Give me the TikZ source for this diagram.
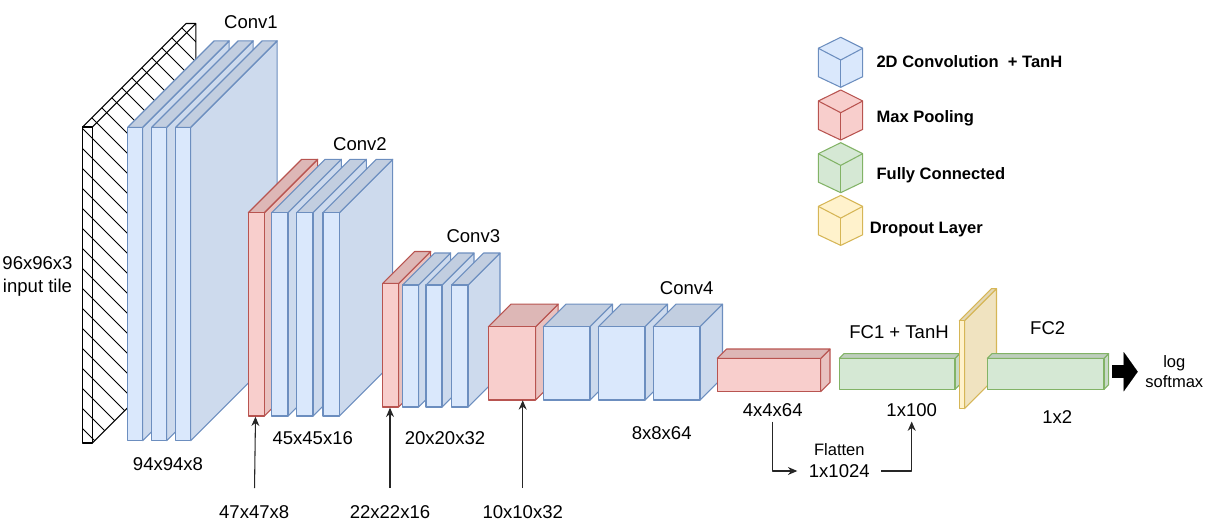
\documentclass[tikz,border=0pt]{standalone}
\usepackage{fontspec}
\setmainfont{Liberation Sans}
\usepackage{xcolor}
\usepackage{tikz}
\usetikzlibrary{arrows.meta, positioning}

\definecolor{convfill}{HTML}{DAE8FC}
\definecolor{convline}{HTML}{6C8EBF}
\definecolor{poolfill}{HTML}{F8CECC}
\definecolor{poolline}{HTML}{B85450}
\definecolor{fcfill}{HTML}{D5E8D4}
\definecolor{fcline}{HTML}{82B366}
\definecolor{dropfill}{HTML}{FFF2CC}
\definecolor{dropline}{HTML}{D6B656}

% box with depth: x, y (front top left), width, height, depth, fill, line
\newcommand{\layerbox}[7]{%
  \filldraw[draw=#7, fill=#6!94!black] ({#1+#3},{#2}) -- ++(#5,-#5) -- ++(0,#4) -- ({#1+#3},{#2+#4}) -- cycle;
  \filldraw[draw=#7, fill=#6!89!black] (#1,#2) -- ++(#5,-#5) -- ++(#3,0) -- ({#1+#3},{#2}) -- cycle;
  \filldraw[draw=#7, fill=#6] (#1,#2) rectangle ++(#3,#4);
}
% iso cube of the legend: top corner x, y, fill, line
\newcommand{\legendcube}[4]{%
  \filldraw[draw=#4, fill=#3] (#1,#2) -- ({#1+22},{#2+11}) -- ({#1+22},{#2+39.4}) -- ({#1},{#2+50})
    -- ({#1-22.4},{#2+39.4}) -- ({#1-22.4},{#2+11}) -- cycle;
  \draw[#4] ({#1-22.4},{#2+11}) -- ({#1},{#2+22.7}) -- ({#1+22},{#2+11});
  \draw[#4] ({#1},{#2+22.7}) -- ({#1},{#2+50});
}

\begin{document}
\begin{tikzpicture}[x=0.75pt, y=-0.75pt, line width=0.8pt, line join=round,
    txt/.style={font=\fontsize{13.9pt}{17.5pt}\selectfont, align=center},
    smalltxt/.style={font=\fontsize{12.4pt}{14.5pt}\selectfont, align=center},
    legtxt/.style={font=\bfseries\fontsize{12.4pt}{14.5pt}\selectfont, anchor=west, inner sep=0pt},
    arr/.style={-{Stealth[length=7pt, width=6pt]}, line width=0.8pt, black!85}]
    \useasboundingbox (0,0) rectangle (1205,527);

    % --- Input tile ---
    \begin{scope}
        \clip (82.7,127) -- (186.2,23.5) -- (195.8,23.5) -- (195.8,339.5) -- (92.3,443) -- (82.7,443) -- cycle;
        \foreach \c in {-124,-104,...,446}
            \draw[line width=0.75pt] (70,\c) -- ++(140,140);
    \end{scope}
    \draw (92.3,127) -- (195.8,23.5) -- (195.8,339.5) -- (92.3,443);
    \draw (82.7,127) -- (186.2,23.5) -- (195.8,23.5);
    \draw (82.7,127) rectangle (92.3,443);
    \node[txt] (input) at (37.5,276.7) {96x96x3\\input tile};

    % --- Conv1 ---
    \layerbox{127.7}{127.3}{15}{313.4}{86.5}{convfill}{convline}
    \layerbox{151.7}{127.3}{15}{313.4}{86.5}{convfill}{convline}
    \layerbox{175.7}{127.3}{15}{313.4}{86.5}{convfill}{convline}
    \node[txt] (conv1) at (251,21.7) {Conv1};
    \node[txt] (size1) at (168,464.3) {94x94x8};

    % --- Conv2 ---
    \layerbox{248.3}{212.7}{16}{203.3}{53.4}{poolfill}{poolline}
    \coordinate (pool1) at (255.5,416.7);
    \layerbox{271.7}{212.7}{16.3}{203.3}{53.4}{convfill}{convline}
    \layerbox{296.7}{212.7}{16.3}{203.3}{53.4}{convfill}{convline}
    \layerbox{323}{212.7}{16.3}{203.3}{53.4}{convfill}{convline}
    \node[txt] (conv2) at (360,144) {Conv2};
    \node[txt] (size2) at (312.7,438.3) {45x45x16};

    % --- Conv3 ---
    \layerbox{382.7}{283.5}{16}{123.5}{32}{poolfill}{poolline}
    \coordinate (pool2) at (390,407.7);
    \layerbox{402.7}{285}{16}{122}{32}{convfill}{convline}
    \layerbox{426}{285}{16}{122}{32}{convfill}{convline}
    \layerbox{451.7}{285}{16.3}{122}{32}{convfill}{convline}
    \node[txt] (conv3) at (473.3,235.7) {Conv3};
    \node[txt] (size3) at (445,438.3) {20x20x32};

    % --- Conv4 ---
    \layerbox{488.3}{326.7}{47.4}{73.3}{22.5}{poolfill}{poolline}
    \coordinate (pool3) at (522.7,400.3);
    \layerbox{543.3}{326.7}{46.7}{73.3}{22.5}{convfill}{convline}
    \layerbox{598.3}{326.7}{46.7}{73.3}{22.5}{convfill}{convline}
    \layerbox{653.3}{326.7}{46.7}{73.3}{22.5}{convfill}{convline}
    \node[txt] (conv4) at (686.7,288.3) {Conv4};
    \node[txt] (size4) at (661.7,432.7) {8x8x64};

    % --- Pooling and fully connected part ---
    \layerbox{717.3}{358.3}{103.4}{33.4}{9.3}{poolfill}{poolline}
    \node[txt] (size5) at (772.7,410) {4x4x64};
    \layerbox{839.3}{358.3}{115.7}{31}{4.7}{fcfill}{fcline}
    \node[txt] (fc1) at (899,332.3) {FC1 + TanH};
    \node[txt] (size6) at (911.7,410) {1x100};
    \layerbox{959.3}{320.7}{5.2}{88}{32}{dropfill}{dropline}
    \layerbox{987.3}{358.3}{116.7}{31}{4.6}{fcfill}{fcline}
    \node[txt] (fc2) at (1047.7,328.3) {FC2};
    \node[txt] (size7) at (1057.3,416.7) {1x2};
    \coordinate (fc2out) at (1112,371.7);
    \node[smalltxt] (lsm) at (1174.3,371.7) {log\\softmax};
    \draw[line width=10pt, -{Triangle[length=10.5pt, width=29.5pt, line width=0.1pt]}, shorten >=2pt]
        (fc2out) -- (lsm);

    % --- Flatten ---
    \node[smalltxt] (flat) at (839.3,450) {Flatten};
    \node[txt] (flatsize) at (839.3,471) {1x1024};
    \draw[arr, shorten >=5pt] (size5) |- (flatsize);
    \draw[arr, shorten <=5pt] (flatsize) -| (size6);

    % --- Pooling sizes ---
    \node[txt] (psize1) at (254.2,511.7) {47x47x8};
    \node[txt] (psize2) at (390,511.7) {22x22x16};
    \node[txt] (psize3) at (522.7,511.7) {10x10x32};
    \draw[arr, shorten <=9pt] (psize1) -- (pool1);
    \draw[arr, shorten <=9pt] (psize2) -- (pool2);
    \draw[arr, shorten <=9pt] (psize3) -- (pool3);

    % --- Legend ---
    \legendcube{840.7}{37.3}{convfill}{convline}
    \legendcube{840.7}{90}{poolfill}{poolline}
    \legendcube{840.7}{142.7}{fcfill}{fcline}
    \legendcube{840.7}{195.4}{dropfill}{dropline}
    \node[legtxt] (leg1) at (876,61.7) {2D Convolution~ + TanH};
    \node[legtxt] (leg2) at (876,118.3) {Max Pooling};
    \node[legtxt] (leg3) at (876,175.7) {Fully Connected};
    \node[legtxt] (leg4) at (869.3,229.3) {Dropout Layer};
\end{tikzpicture}
\end{document}
